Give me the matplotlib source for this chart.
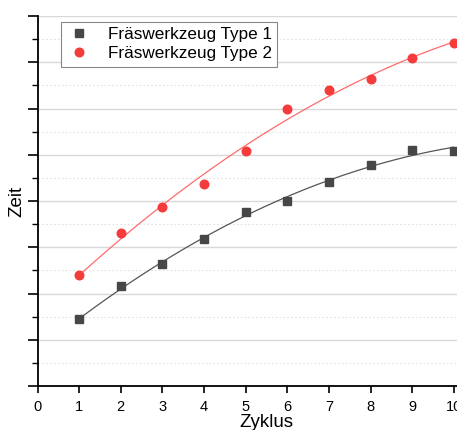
import numpy as np
import matplotlib
matplotlib.use('Agg')
import matplotlib.pyplot as plt
from matplotlib.ticker import MultipleLocator

zyklus = [1, 2, 3, 4, 5, 6, 7, 8, 9, 10]
zeit_type1 = [1.44, 2.16, 2.64, 3.18, 3.76, 4.01, 4.42, 4.78, 5.10, 5.08]
zeit_type2 = [2.40, 3.30, 3.87, 4.36, 5.09, 5.99, 6.41, 6.63, 7.10, 7.41]
labels = ['Fräswerkzeug Type 1', 'Fräswerkzeug Type 2']

plt.rcParams['font.family'] = ['Liberation Sans', 'DejaVu Sans']

fig = plt.figure(figsize=(4.57, 4.30), dpi=100)
ax = fig.add_axes([37.5 / 457, 44 / 430, 458 / 457, 370 / 430])

# Fitkurven (Polynom 2. Grades)
x_fit = np.linspace(1, 10, 200)
p1 = np.polyfit(zyklus, zeit_type1, 2)
p2 = np.polyfit(zyklus, zeit_type2, 2)
ax.plot(x_fit, np.polyval(p1, x_fit), color='#555555', lw=0.9, zorder=2)
ax.plot(x_fit, np.polyval(p2, x_fit), color='#ff6b6b', lw=0.9, zorder=2)

ax.plot(zyklus, zeit_type1, 's', color='#474747', ms=5.5, label=labels[0], zorder=3)
ax.plot(zyklus, zeit_type2, 'o', color='#f43c3c', ms=6.2, label=labels[1], zorder=3)

ax.set_xlim(0, 11)
ax.set_ylim(0, 8)
ax.set_xticks(range(0, 11))
ax.yaxis.set_major_locator(MultipleLocator(1))
ax.yaxis.set_minor_locator(MultipleLocator(0.5))
ax.set_yticklabels([])

ax.grid(True, which='major', axis='y', color='#d9d9d9', lw=1.0, zorder=0)
ax.grid(True, which='minor', axis='y', color='#e2e2e2', lw=0.8, ls=(0, (1.5, 2)), zorder=0)
ax.yaxis.get_major_ticks()[-1].gridline.set_visible(False)

for s in ['top', 'right']:
    ax.spines[s].set_visible(False)
for s in ['left', 'bottom']:
    ax.spines[s].set_linewidth(1.3)

ax.tick_params(axis='x', which='major', direction='out', length=5, width=1.2, labelsize=10.5, pad=5)
ax.tick_params(axis='y', which='major', direction='out', length=7, width=1.2)
ax.tick_params(axis='y', which='minor', direction='out', length=4, width=1.0)

ax.set_xlabel('Zyklus', fontsize=13.5, labelpad=0)
ax.set_ylabel('Zeit', fontsize=13.5)
ax.yaxis.set_label_coords(-12 / 458, 0.5)

leg = ax.legend(loc='upper left', bbox_to_anchor=(23 / 458, 1 - 6 / 370), fontsize=12.3,
                frameon=True, fancybox=False, edgecolor='#888888', framealpha=1,
                borderpad=0.3, handletextpad=0.9, labelspacing=0.25, borderaxespad=0,
                handlelength=1.6)
leg.get_frame().set_linewidth(0.8)

fig.savefig('out.png', dpi=100)
